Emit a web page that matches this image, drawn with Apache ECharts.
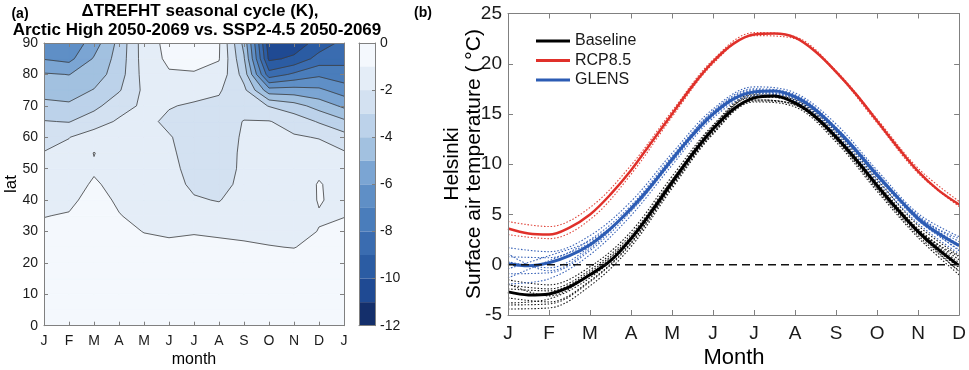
<!DOCTYPE html>
<html>
<head>
<meta charset="utf-8">
<script src="https://cdn.jsdelivr.net/npm/echarts@6/dist/echarts.min.js"></script>
<style>
html, body { margin: 0; padding: 0; background: #fff; }
#chart { width: 969px; height: 370px; }
</style>
</head>
<body>
<div id="chart"></div>
<script>
// ---- panel (a): seasonal cycle of dTREFHT by latitude ----
const monthsA = ['J', 'F', 'M', 'A', 'M', 'J', 'J', 'A', 'S', 'O', 'N', 'D', 'J'];
const lats = [0, 5, 10, 15, 20, 25, 30, 35, 40, 45, 50, 55, 60, 65, 70, 75, 80, 85, 90];
// one row per month column (J..J), values from lat 0 to 90, in K
const dTrefht = [
    [-0.4, -0.4, -0.4, -0.5, -0.6, -0.7, -0.85, -1.02, -1.2, -1.45, -1.7, -1.95, -2.45, -2.95, -3.75, -4.35, -4.9, -6.05, -6.6],
    [-0.3, -0.3, -0.35, -0.4, -0.5, -0.65, -0.8, -0.95, -1.15, -1.35, -1.55, -1.8, -2.02, -3.05, -3.85, -4.45, -5.02, -6.3, -6.8],
    [-0.2, -0.2, -0.25, -0.3, -0.35, -0.45, -0.55, -0.65, -0.75, -0.9, -1.1, -0.97, -1.6, -2.4, -3.3, -3.95, -4.55, -4.9, -5.5],
    [-0.2, -0.2, -0.25, -0.3, -0.45, -0.6, -0.8, -0.97, -1.1, -1.25, -1.4, -1.55, -1.7, -1.88, -2.35, -3.1, -3.45, -3.6, -3.7],
    [-0.3, -0.3, -0.35, -0.45, -0.6, -0.8, -1.02, -1.2, -1.35, -1.45, -1.5, -1.55, -1.65, -1.8, -1.85, -1.8, -1.65, -1.55, -1.5],
    [-0.25, -0.25, -0.3, -0.4, -0.55, -0.85, -1.1, -1.3, -1.45, -1.6, -1.75, -1.85, -1.95, -2.15, -1.95, -1.5, -1.1, -0.8, -0.7],
    [-0.25, -0.25, -0.3, -0.4, -0.55, -0.8, -1.05, -1.5, -1.9, -2.2, -2.3, -2.35, -2.3, -2.25, -2.1, -1.7, -1.05, -0.8, -0.7],
    [-0.25, -0.25, -0.3, -0.45, -0.6, -0.85, -1.1, -1.6, -2.05, -2.25, -2.35, -2.4, -2.4, -2.35, -2.2, -1.9, -1.3, -0.95, -0.9],
    [-0.25, -0.25, -0.3, -0.45, -0.65, -0.9, -1.15, -1.35, -1.5, -1.8, -1.85, -1.85, -1.9, -1.97, -2.3, -2.75, -3.4, -3.9, -4.3],
    [-0.3, -0.3, -0.35, -0.5, -0.7, -0.97, -1.2, -1.4, -1.55, -1.65, -1.75, -1.8, -1.87, -1.95, -3.05, -5.6, -8.6, -10.2, -10.6],
    [-0.3, -0.3, -0.35, -0.5, -0.7, -1.02, -1.2, -1.35, -1.5, -1.6, -1.7, -1.8, -1.9, -2.4, -3.6, -5.6, -7.8, -9.8, -10.6],
    [-0.3, -0.3, -0.35, -0.45, -0.6, -0.8, -0.98, -1.05, -0.95, -0.93, -1.2, -1.6, -2.05, -3.1, -4.4, -5.8, -7.2, -8.6, -9.6],
    [-0.3, -0.3, -0.35, -0.45, -0.55, -0.7, -0.85, -1.02, -1.2, -1.4, -1.65, -1.9, -2.6, -3.8, -5.2, -6.5, -7.6, -8.3, -8.7]
];
// colour of each 1 K band, from [0,-1] down to [-11,-12]
const bandColors = ['#f4f8fd', '#e4edf7', '#d3e1f1', '#bcd2ea', '#a2c1e0', '#7ba5d3',
    '#5f8fc6', '#4a7dbb', '#3a6cb0', '#2b5ca3', '#1f4a93', '#142f6b'];

// ---- panel (b): Helsinki surface air temperature ----
const monthsB = ['J', 'F', 'M', 'A', 'M', 'J', 'J', 'A', 'S', 'O', 'N', 'D'];
const halfMonths = [1, 1.5, 2, 2.5, 3, 3.5, 4, 4.5, 5, 5.5, 6, 6.5, 7, 7.5, 8, 8.5, 9, 9.5, 10, 10.5, 11, 11.5, 12];
const baseline = [-2.7, -3.0, -2.9, -2.2, -1.0, 0.4, 2.6, 5.3, 8.2, 11.0, 13.5, 15.5, 16.6, 16.8, 16.1, 14.7, 12.7, 10.4, 7.9, 5.5, 3.3, 1.5, -0.1];
const rcp85 = [3.6, 3.1, 3.0, 3.7, 5.0, 7.0, 9.4, 12.2, 15.0, 17.8, 20.2, 22.0, 22.9, 23.0, 22.6, 21.2, 19.2, 16.9, 14.3, 11.7, 9.3, 7.4, 6.0];
const glens = [0.1, -0.1, 0.2, 0.9, 2.0, 3.6, 5.6, 7.9, 10.5, 12.9, 15.0, 16.5, 17.2, 17.3, 16.7, 15.4, 13.5, 11.3, 8.9, 6.7, 4.6, 3.1, 1.9];

const memberMonths = [1, 2, 3, 4, 5, 6, 7, 8, 9, 10, 11, 12];
const baselineMembers = [
    [-1.5, -2.0, -0.2, 3.3, 8.8, 13.9, 17.0, 16.5, 13.2, 8.5, 3.9, 0.9],
    [-4.4, -4.3, -2.1, 1.8, 7.6, 13.0, 16.2, 15.7, 12.2, 7.3, 2.7, -1.0],
    [-3.3, -3.7, -1.6, 2.2, 7.9, 13.2, 16.4, 15.9, 12.4, 7.5, 2.9, -0.6],
    [-2.0, -2.4, -0.5, 3.0, 8.5, 13.7, 16.9, 16.4, 13.0, 8.2, 3.6, 0.5],
    [-3.8, -3.4, -1.3, 2.4, 8.0, 13.4, 16.4, 15.9, 12.5, 7.6, 3.1, -0.3],
    [-2.4, -2.6, -0.7, 2.8, 8.4, 13.6, 16.8, 16.3, 12.9, 8.0, 3.5, 0.2],
    [-4.0, -3.9, -1.7, 2.1, 7.8, 13.1, 16.3, 16.0, 12.6, 7.8, 3.4, 0.8],
    [-1.9, -3.1, -0.9, 2.7, 8.3, 13.8, 16.7, 16.2, 12.8, 7.7, 3.2, -0.7]
];
const glensMembers = [
    [1.7, 1.3, 2.9, 6.3, 11.1, 15.5, 17.7, 17.1, 14.0, 9.4, 5.1, 2.8],
    [-1.9, -1.4, 1.0, 4.9, 9.9, 14.6, 16.8, 16.3, 13.0, 8.4, 4.1, 1.1],
    [0.8, 0.7, 2.5, 5.9, 10.8, 15.2, 17.4, 16.9, 13.7, 9.1, 4.9, 2.3],
    [-0.9, -0.8, 1.4, 5.3, 10.2, 14.8, 17.0, 16.5, 13.3, 8.7, 4.4, 1.5],
    [0.3, -0.3, 1.8, 5.7, 10.6, 15.1, 17.3, 16.8, 13.6, 8.9, 4.8, 2.0],
    [-1.3, 0.4, 2.2, 5.5, 10.4, 14.9, 17.1, 16.7, 13.4, 9.0, 4.6, 1.4],
    [1.1, -0.6, 1.6, 5.6, 10.5, 15.3, 17.5, 16.9, 13.5, 8.8, 4.7, 2.6],
    [-0.4, 0.9, 2.4, 5.4, 10.3, 15.0, 17.2, 16.6, 13.6, 9.2, 4.4, 1.8]
];
const rcpMembers = [
    [4.3, 3.8, 5.7, 9.9, 15.3, 20.4, 23.1, 22.7, 19.3, 14.5, 9.6, 6.3],
    [3.0, 2.6, 4.5, 9.0, 14.7, 20.0, 22.8, 22.5, 19.1, 14.1, 9.1, 5.8]
];

const FONT = '"Liberation Sans", Arial, Helvetica, sans-serif';
const AXIS_GREY = '#808080';
const TEXT = '#1a1a1a';

const chart = echarts.init(document.getElementById('chart'), null, { renderer: 'canvas' });

// corners of one grid cell, counter-clockwise in data order
function cellOf(api, i, j) {
    const xs = [i + 1, i + 2, i + 2, i + 1];
    const ys = [lats[j], lats[j], lats[j + 1], lats[j + 1]];
    const vs = [dTrefht[i][j], dTrefht[i + 1][j], dTrefht[i + 1][j + 1], dTrefht[i][j + 1]];
    const pts = xs.map((x, k) => api.coord([x, ys[k]]));
    return { pts, vs };
}

function lerpPt(pa, pb, a, b, t) {
    const f = (t - a) / (b - a);
    return [pa[0] + f * (pb[0] - pa[0]), pa[1] + f * (pb[1] - pa[1])];
}

// part of the cell where value < t
function clipBelow(pts, vs, t) {
    const out = [];
    for (let k = 0; k < 4; k++) {
        const n = (k + 1) % 4;
        if (vs[k] < t) out.push(pts[k]);
        if ((vs[k] < t) !== (vs[n] < t)) out.push(lerpPt(pts[k], pts[n], vs[k], vs[n], t));
    }
    return out;
}

function crossings(pts, vs, t) {
    const out = [];
    for (let k = 0; k < 4; k++) {
        const n = (k + 1) % 4;
        if ((vs[k] < t) !== (vs[n] < t)) out.push(lerpPt(pts[k], pts[n], vs[k], vs[n], t));
    }
    return out;
}

// one fill layer per band so neighbour cells never paint over darker bands
function makeFillRenderer(k) {
    return function (params, api) {
        const { pts, vs } = cellOf(api, api.value(2), api.value(3));
        const poly = clipBelow(pts, vs, -k);
        if (poly.length < 3) return null;
        return {
            type: 'polygon', shape: { points: poly },
            style: { fill: bandColors[k], stroke: bandColors[k], lineWidth: 0.9 }
        };
    };
}

function renderLines(params, api) {
    const { pts, vs } = cellOf(api, api.value(2), api.value(3));
    const children = [];
    const seg = (p, q) => ({
        type: 'line',
        shape: { x1: p[0], y1: p[1], x2: q[0], y2: q[1] },
        style: { stroke: '#3d3d3d', lineWidth: 0.8 }
    });
    for (let k = 1; k < bandColors.length; k++) {
        const c = crossings(pts, vs, -k);
        if (c.length === 2) children.push(seg(c[0], c[1]));
        else if (c.length === 4) { children.push(seg(c[0], c[1])); children.push(seg(c[2], c[3])); }
    }
    return { type: 'group', children };
}

function renderColorbar(params, api) {
    const k = api.value(2);
    const p1 = api.coord([0, -k]);
    const p2 = api.coord([1, -k - 1]);
    return {
        type: 'rect',
        shape: { x: p1[0], y: p1[1], width: p2[0] - p1[0], height: p2[1] - p1[1] },
        style: { fill: bandColors[k] }
    };
}

const cells = [];
for (let i = 0; i < monthsA.length - 1; i++) {
    for (let j = 0; j < lats.length - 1; j++) {
        cells.push([i + 1.5, (lats[j] + lats[j + 1]) / 2, i, j]);
    }
}
const bands = bandColors.map((c, k) => [0.5, -k - 0.5, k]);

function boxAxis(gridIndex, position, min, max, interval, extra) {
    return Object.assign({
        type: 'value', gridIndex, position, min, max, interval, z: 10,
        axisLine: { show: true, onZero: false, lineStyle: { color: AXIS_GREY, width: 1 } },
        axisTick: { show: true, inside: true, length: 4, lineStyle: { color: AXIS_GREY } },
        axisLabel: { show: false },
        splitLine: { show: false }
    }, extra || {});
}

function labelStyle(size, margin, formatter) {
    return {
        show: true, fontSize: size, fontFamily: FONT, color: TEXT, margin,
        showMinLabel: true, showMaxLabel: true, formatter
    };
}

function memberSeries(list, name, color) {
    return list.map((vals, n) => ({
        name: name + ' member ' + (n + 1),
        type: 'line', xAxisIndex: 3, yAxisIndex: 3,
        smooth: 0.35, symbol: 'none', silent: true,
        lineStyle: { color, width: 1.1, type: [1.5, 1.8] },
        data: memberMonths.map((m, k) => [m, vals[k]])
    }));
}

function meanSeries(vals, name, color, width) {
    return {
        name, type: 'line', xAxisIndex: 3, yAxisIndex: 3,
        smooth: 0.35, symbol: 'none', silent: true,
        lineStyle: { color, width },
        itemStyle: { color },
        data: halfMonths.map((m, k) => [m, vals[k]])
    };
}

function txt(x, y, text, size, extra) {
    return {
        type: 'text', x, y, silent: true,
        rotation: (extra && extra.rotation) || 0,
        style: {
            text, fill: '#000', fontSize: size, fontFamily: FONT,
            fontWeight: (extra && extra.bold) ? 'bold' : 'normal',
            align: 'center', verticalAlign: 'middle',
            textAlign: 'center', textVerticalAlign: 'middle'
        }
    };
}

const fillSeries = bandColors.map((c, k) => ({
    name: 'dTREFHT band ' + k, type: 'custom', xAxisIndex: 0, yAxisIndex: 0,
    renderItem: makeFillRenderer(k), data: cells, encode: { x: 0, y: 1 },
    silent: true, clip: true, z: 1
}));

const option = {
    animation: false,
    backgroundColor: '#fff',
    grid: [
        { left: 44, top: 43, width: 300, height: 282.7 },
        { left: 359, top: 43, width: 16, height: 282.7 },
        { left: 508, top: 13.5, width: 452, height: 301.5 }
    ],
    xAxis: [
        boxAxis(0, 'bottom', 1, 13, 1, { axisLabel: labelStyle(14, 8, v => monthsA[v - 1]) }),
        boxAxis(0, 'top', 1, 13, 1),
        boxAxis(1, 'bottom', 0, 1, 1, { axisTick: { show: false } }),
        boxAxis(2, 'bottom', 1, 12, 1, { axisTick: { show: true, inside: true, length: 5, lineStyle: { color: AXIS_GREY } }, axisLabel: labelStyle(19, 9, v => monthsB[v - 1]) }),
        boxAxis(2, 'top', 1, 12, 1, { axisTick: { show: true, inside: true, length: 5, lineStyle: { color: AXIS_GREY } } }),
        boxAxis(1, 'top', 0, 1, 1, { axisTick: { show: false } })
    ],
    yAxis: [
        boxAxis(0, 'left', 0, 90, 10, { axisLabel: labelStyle(14, 6) }),
        boxAxis(0, 'right', 0, 90, 10),
        boxAxis(1, 'right', -12, 0, 2, { axisTick: { show: true, inside: true, length: 3, lineStyle: { color: AXIS_GREY } }, axisLabel: labelStyle(14, 5) }),
        boxAxis(2, 'left', -5, 25, 5, { axisTick: { show: true, inside: true, length: 5, lineStyle: { color: AXIS_GREY } }, axisLabel: labelStyle(19, 6) }),
        boxAxis(2, 'right', -5, 25, 5, { axisTick: { show: true, inside: true, length: 5, lineStyle: { color: AXIS_GREY } } }),
        boxAxis(1, 'left', -12, 0, 2, { axisTick: { show: false } })
    ],
    legend: {
        data: ['Baseline', 'RCP8.5', 'GLENS'],
        orient: 'vertical', left: 531, top: 28,
        icon: 'rect', itemWidth: 34, itemHeight: 3, itemGap: 3.5,
        textStyle: { fontSize: 16, fontFamily: FONT, color: TEXT },
        selectedMode: false
    },
    series: [
        ...fillSeries,
        {
            name: 'dTREFHT contours', type: 'custom', xAxisIndex: 0, yAxisIndex: 0,
            renderItem: renderLines, data: cells, encode: { x: 0, y: 1 }, silent: true, clip: true, z: 2
        },
        {
            name: 'colorbar', type: 'custom', xAxisIndex: 2, yAxisIndex: 2,
            renderItem: renderColorbar, data: bands, encode: { x: 0, y: 1 }, silent: true, z: 1
        },
        ...memberSeries(baselineMembers, 'Baseline', '#1a1a1a'),
        ...memberSeries(glensMembers, 'GLENS', '#3a64b8'),
        ...memberSeries(rcpMembers, 'RCP8.5', '#e0463c'),
        meanSeries(baseline, 'Baseline', '#000000', 3),
        meanSeries(rcp85, 'RCP8.5', '#e0302a', 2.5),
        meanSeries(glens, 'GLENS', '#2c5cb4', 3),
        {
            name: 'zero', type: 'line', xAxisIndex: 3, yAxisIndex: 3, symbol: 'none', silent: true,
            lineStyle: { color: '#111', width: 1.3, type: [8, 5] },
            data: [[1, 0], [12, 0]]
        }
    ],
    graphic: [
        txt(20, 14, '(a)', 14, { bold: true }),
        txt(200, 11, '\u0394TREFHT seasonal cycle (K),', 17, { bold: true }),
        txt(197, 30, 'Arctic High 2050-2069 vs. SSP2-4.5 2050-2069', 17, { bold: true }),
        txt(11, 184, 'lat', 17, { rotation: Math.PI / 2 }),
        txt(194, 360, 'month', 16),
        txt(423, 13, '(b)', 14, { bold: true }),
        txt(452, 164, 'Helsinki', 21, { rotation: Math.PI / 2 }),
        txt(474, 164, 'Surface air temperature ( \u00B0C)', 21, { rotation: Math.PI / 2 }),
        txt(734, 358, 'Month', 22)
    ]
};

chart.setOption(option);
</script>
</body>
</html>
